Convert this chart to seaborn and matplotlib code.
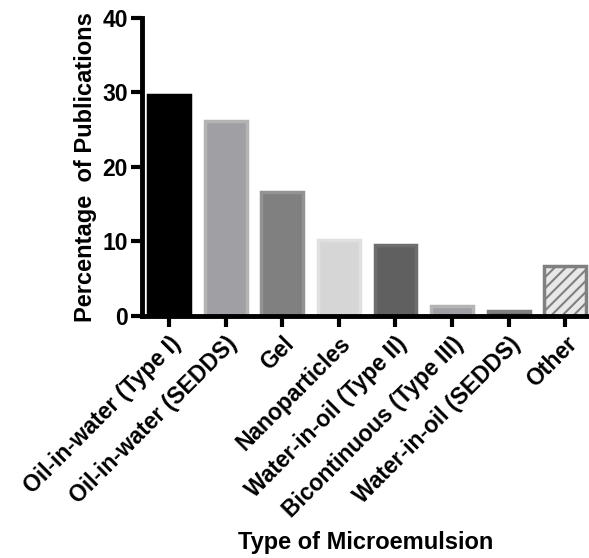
import matplotlib
matplotlib.use("Agg")
import matplotlib.pyplot as plt
import seaborn as sns
import pandas as pd

categories = ["Oil-in-water (Type I)", "Oil-in-water (SEDDS)", "Gel", "Nanoparticles",
              "Water-in-oil (Type II)", "Bicontinuous (Type III)", "Water-in-oil (SEDDS)", "Other"]
percent = [29.7, 26.2, 16.6, 10.2, 9.5, 1.3, 0.7, 6.7]
fill_colors = ["#000000", "#a0a0a4", "#808080", "#d6d6d6", "#606060", "#a0a0a4", "#707070", "#ffffff"]
edge_colors = ["#000000", "#b4b4b4", "#939393", "#e0e0e0", "#6e6e6e", "#b4b4b4", "#808080", "#808080"]

df = pd.DataFrame({"Type": categories, "Percent": percent})

sns.set_style("ticks")
plt.rcParams["font.family"] = ["Liberation Sans", "DejaVu Sans"]
plt.rcParams["font.weight"] = "bold"
plt.rcParams["hatch.linewidth"] = 1.5
plt.rcParams["text.color"] = "black"
plt.rcParams["axes.labelcolor"] = "black"
plt.rcParams["xtick.color"] = "black"
plt.rcParams["ytick.color"] = "black"

fig = plt.figure(figsize=(5.89, 5.58), dpi=100)
ax = fig.add_axes([0.241, 0.434, 0.759, 0.534])

sns.barplot(data=df, x="Type", y="Percent", hue="Type", palette=fill_colors,
            legend=False, width=0.74, ax=ax)

for bar, ec in zip(ax.patches, edge_colors):
    bar.set_edgecolor(ec)
    bar.set_linewidth(2.5)
ax.patches[-1].set_hatch("///")
ax.patches[-1].set_facecolor("#e8e8e8")

ax.set_ylim(0, 40)
ax.set_xlim(-0.48, 7.42)
ax.set_yticks([0, 10, 20, 30, 40])
for side in ["top", "right"]:
    ax.spines[side].set_visible(False)
for side in ["left", "bottom"]:
    ax.spines[side].set_linewidth(3.5)
    ax.spines[side].set_color("black")
ax.tick_params(axis="both", width=3, length=8, color="black", labelcolor="black")
ax.tick_params(axis="y", labelsize=16.5, pad=2)
ax.tick_params(axis="x", labelsize=16.5, pad=4)
plt.setp(ax.get_xticklabels(), rotation=45, ha="right", rotation_mode="anchor", fontweight="bold")
plt.setp(ax.get_yticklabels(), fontweight="bold")

ax.set_ylabel("Percentage  of Publications", fontsize=17, fontweight="bold", labelpad=4)
ax.set_xlabel("Type of Microemulsion", fontsize=17, fontweight="bold", va="center")
ax.xaxis.set_label_coords(0.5, -0.76)

fig.savefig("out.png", dpi=100)
